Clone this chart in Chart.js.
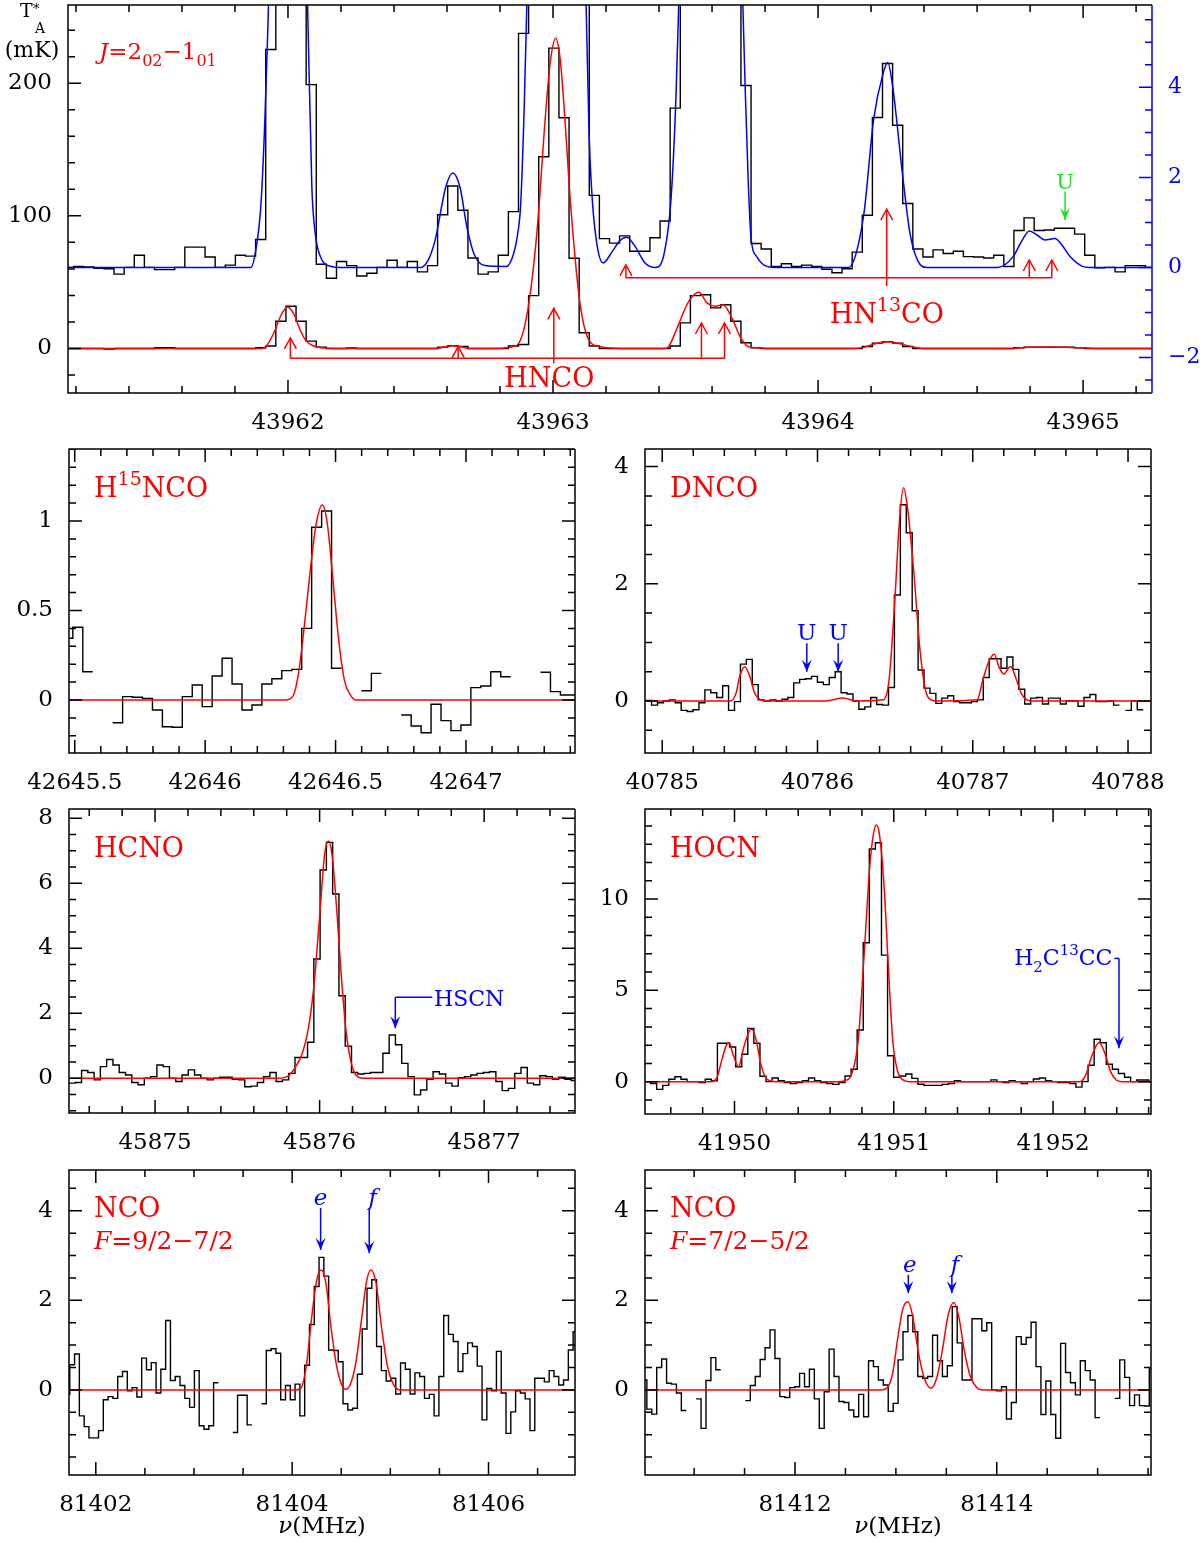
<!DOCTYPE html>
<html>
<head>
<meta charset="utf-8">
<title>HNCO isomers</title>
<script src="https://cdn.jsdelivr.net/npm/chart.js@4.4.1/dist/chart.umd.min.js"></script>
<style>
  html, body { margin: 0; padding: 0; background: #fff; }
  body { position: relative; width: 1200px; height: 1543px; overflow: hidden; }
  canvas { position: absolute; }
</style>
</head>
<body>
<script>
// channel widths (MHz)
const CH_Q = 0.03815;
const CH_3MM = 0.04883;

/* ---- top panel: HNCO J=2(02)-1(01), lower trace in mK, upper trace on the blue axis ---- */
const topStart = 43961.153;
const topSpec = [
  0, 0, 0, 0, -0.5, 0, 0, 0, 0, 0.5, 0.5, 0, 0, 0, 0, 0, 0, 0, 0, 0.5,
  1.8, 20.5, 31.8, 20.5, 5.5, 1,
  0, 0, 0.3, 0, 0, 0, 0, 0, 0, 0, 0,
  1, 2, 1.5,
  0, 0, 0, 0,
  1.8, 3, 39.8, 144.6, 226.5, 174, 68, 11.8, 1.8,
  0, 0, 0, 0, 0, 0, 0,
  1.8, 19.3, 39.8, 40.5, 30.6, 33, 20.5, 4.3, 0.5,
  0, 0, 0, 0, 0, 0, 0, 0, 0, 0,
  1.5, 4, 5, 4, 1.5,
  0, 0, 0, 0, 0, 0, 0, 0, 0, 0,
  0.5, 1, 1, 1, 1, 1, 0.5,
  0, 0, 0, 0, 0, 0, 0
];
const topSpecZoom = [
  0, 0.02, 0.01, -0.02, -0.03, -0.15, 0, 0.27, 0, -0.05, -0.05, 0, 0.45, 0.45, 0.23, 0, 0.05, 0.27, 0.25, 0.62,
  4.84, 8, 10, 8, 4.06,
  0.07, -0.24, 0.13, 0.04, -0.19, -0.13, 0, 0.16, 0, 0.13, -0.1, 0.04, 1.17, 1.81, 1.27, 0.21, -0.15, -0.1, 0.27, 1.24,
  5.2, 9, 14, 16, 14, 10, 7, 1.6,
  0.64, 0.54, 0.70, 0.36, 0.36, 0.66, 1.03, 3.54,
  7, 10, 12, 12, 10, 7,
  4.04, 0.53, 0.41, 0.02, 0.08, 0.02, 0.05, 0.02, -0.04, -0.12, -0.03, 0.34, 1.16, 3.33, 4.53, 3.16, 1.42,
  0.41, 0.23, 0.39, 0.31, 0.36, 0.24, 0.23, 0.21, 0.27, 0.02, 0.82, 1.10, 0.82, 0.83, 0.87, 0.87, 0.74,
  0.27, -0.01, 0, -0.1, 0.04, 0.04, 0
];
const topFit = [
  [43961.17, 0], [43961.902, 0], [43961.917, 1.5], [43961.947, 11.8], [43961.975, 25.6], [43961.998, 31.3],
  [43962.023, 25.6], [43962.045, 14.3], [43962.069, 5.5], [43962.097, 1.8], [43962.136, 0.3], [43962.177, 0],
  [43962.562, 0], [43962.592, 1.2], [43962.622, 2], [43962.653, 1.2], [43962.683, 0],
  [43962.800, 0], [43962.824, 0.5], [43962.849, 1.5], [43962.872, 4.3], [43962.905, 29.3], [43962.939, 87],
  [43962.972, 177], [43962.989, 215], [43963.010, 234], [43963.026, 220], [43963.040, 187], [43963.067, 107],
  [43963.100, 36.8], [43963.134, 6.8], [43963.175, 1.5], [43963.215, 0.3], [43963.253, 0],
  [43963.423, 0], [43963.437, 1.5], [43963.466, 14.3], [43963.509, 34.4], [43963.550, 42.3], [43963.581, 34.4],
  [43963.611, 31.8], [43963.642, 33], [43963.675, 23], [43963.705, 9.3], [43963.733, 1.8], [43963.770, 0.5], [43963.808, 0],
  [43964.140, 0], [43964.174, 1], [43964.215, 3.5], [43964.263, 5], [43964.309, 3.5], [43964.362, 1], [43964.404, 0],
  [43964.725, 0], [43964.781, 0.8], [43964.894, 1], [43964.989, 0.5], [43965.045, 0], [43965.26, 0]
];
const topFitZoom = [
  [43961.17, 0], [43961.860, 0], [43961.879, 0.4], [43961.898, 1.4], [43961.913, 3.3], [43961.925, 5.5],
  [43961.940, 9], [43962.000, 18], [43962.057, 9], [43962.074, 5.8], [43962.090, 1.8], [43962.103, 0.75],
  [43962.123, 0.23], [43962.164, 0.02], [43962.196, 0],
  [43962.501, 0], [43962.528, 0.15], [43962.555, 0.6], [43962.595, 1.78], [43962.622, 2.1], [43962.649, 1.78],
  [43962.675, 0.9], [43962.702, 0.3], [43962.743, 0.04], [43962.823, 0.02],
  [43962.851, 0.3], [43962.868, 0.8], [43962.878, 1.4], [43962.891, 3.5], [43962.902, 6], [43962.951, 20],
  [43963.008, 28], [43963.064, 20], [43963.109, 9], [43963.125, 5.8], [43963.136, 3.0], [43963.147, 1.6],
  [43963.166, 0.5], [43963.189, 0.1], [43963.223, 0.35], [43963.253, 0.6], [43963.278, 0.67], [43963.306, 0.5],
  [43963.347, 0.1], [43963.387, 0], [43963.419, 0.3], [43963.445, 1.5], [43963.464, 3.8], [43963.475, 6],
  [43963.517, 15], [43963.596, 22], [43963.675, 15], [43963.713, 6.5], [43963.725, 4], [43963.736, 2],
  [43963.747, 0.67], [43963.770, 0.23], [43963.800, 0.04], [43963.838, 0],
  [43964.116, 0], [43964.143, 0.3], [43964.174, 1.24], [43964.210, 3.3], [43964.245, 4.3], [43964.263, 4.55],
  [43964.282, 4.0], [43964.318, 2.1], [43964.347, 0.75], [43964.376, 0.15], [43964.411, 0],
  [43964.679, 0], [43964.736, 0.24], [43964.770, 0.6], [43964.797, 0.81], [43964.826, 0.72], [43964.856, 0.61],
  [43964.894, 0.64], [43964.920, 0.5], [43964.951, 0.24], [43964.995, 0.03], [43965.026, 0], [43965.26, 0]
];
const topTicksX = [43962, 43963, 43964, 43965];
const topTicksY = [0, 100, 200];
const topTicksY2 = [-2, 0, 2, 4];

/* ---- H15NCO ---- */
const h15Start = 42645.4546;
const h15Spec = [
  0.345, 0.406, 0.158, null, null,
  -0.127, 0.019, 0.015, 0.009, -0.056, -0.149, -0.152, 0.019, 0.084, -0.037, 0.134, 0.233, 0.089, -0.056,
  -0.028, 0.089, 0.119, 0.164, 0.171, 0.4, 0.965, 1.056, 0.177,
  null, null, 0.052, 0.149, null, null,
  -0.084, -0.145, -0.183, -0.024, -0.115, -0.171, -0.14, 0.069, 0.078, 0.158, 0.13,
  null, null, null, 0.155, 0.047, 0.028, 0.028
];
const h15Fit = [
  [42645.478, 0], [42646.306, 0], [42646.336, 0.02], [42646.358, 0.15], [42646.380, 0.41], [42646.402, 0.71],
  [42646.424, 0.97], [42646.449, 1.089], [42646.468, 0.99], [42646.490, 0.67], [42646.512, 0.335],
  [42646.534, 0.11], [42646.556, 0.03], [42646.578, 0], [42647.418, 0]
];
const h15TicksX = [42645.5, 42646, 42646.5, 42647];
const h15TicksY = [0, 0.5, 1];

/* ---- DNCO ---- */
const dncoStart = 40784.855;
const dncoSpec = [
  0.01,
  0.01, -0.07, -0.03, 0, 0.02, -0.03, -0.16, -0.18, -0.15, -0.03, 0.19, 0.14, 0.06, 0.26, -0.16, -0.01,
  0.63, 0.71, 0.28, 0.02, 0, 0.02, 0, 0.03, 0.06, 0.31, 0.37, 0.38, 0.42, 0.32, 0.28, 0.4, 0.5, 0.14,
  0.12, 0, -0.14, -0.1, 0.06, -0.06, -0.07, 0.23,
  1.81, 3.35, 2.87, 1.54, 0.53, 0.22, 0.13, -0.04, 0.05, 0.09, -0.01, -0.03, -0.03, -0.01, 0.02,
  0.4, 0.72, 0.72, 0.56, 0.75, 0.54, 0.2, -0.05, 0.05, 0.06, -0.05, 0.05, 0.05, -0.05, 0, 0, -0.09,
  0.06, 0.11, -0.01, -0.01, 0, -0.07, null, -0.16, 0, -0.15, null, null
];
const dncoFit = [
  [40784.889, 0], [40785.437, 0], [40785.475, 0.13], [40785.499, 0.42], [40785.532, 0.585], [40785.566, 0.40],
  [40785.598, 0.12], [40785.635, 0.02], [40785.68, 0], [40786.054, 0], [40786.165, 0.05], [40786.251, 0],
  [40786.424, 0.02], [40786.461, 0.36], [40786.498, 1.72], [40786.530, 3.15], [40786.555, 3.64], [40786.584, 3.2],
  [40786.621, 2.18], [40786.658, 0.93], [40786.695, 0.19], [40786.732, 0.02], [40786.77, 0],
  [40787.028, 0.02], [40787.065, 0.36], [40787.102, 0.67], [40787.139, 0.8], [40787.169, 0.58], [40787.200, 0.46],
  [40787.243, 0.59], [40787.282, 0.36], [40787.312, 0.13], [40787.349, 0.02], [40787.39, 0], [40788.148, 0]
];
const dncoTicksX = [40785, 40786, 40787, 40788];
const dncoTicksY = [0, 2, 4];

/* ---- HCNO ---- */
const hcnoStart = 45874.477;
const hcnoSpec = [
  -0.15, -0.13, 0.24, 0.18, -0.05, 0.36, 0.58, 0.41, 0.18, 0.1, -0.13, -0.2, 0, 0.05, 0.41, 0.36, 0, -0.1,
  0.1, 0.26, 0.1, 0, -0.05, 0, 0.03, 0.03, -0.03, -0.05, -0.26, -0.24, -0.13, 0.05, 0.18, -0.1, -0.05, 0.15,
  0.64, 0.64, 1.11, 3.67, 6.41,
  7.26, 5.67, 2.54, 0.99, 0.18, 0.13, 0.15, 0.18, 0.18, 0.77, 1.33, 1.03, 0.46, 0.05, -0.51, -0.36, -0.03,
  0.2, 0.13, -0.15, -0.24, 0.02, 0.05, 0.1, 0.15, 0.18, 0.2, -0.1, -0.38, -0.31, 0.15, 0.33, -0.15, -0.2,
  0.08, 0.05, -0.03, 0.03, -0.03, -0.07
];
const hcnoFit = [
  [45874.477, 0], [45875.75, 0], [45875.802, 0.05], [45875.849, 0.31], [45875.895, 0.77], [45875.930, 1.49],
  [45875.965, 2.82], [45876.000, 4.97], [45876.030, 6.87], [45876.053, 7.3], [45876.077, 6.82], [45876.104, 5.18],
  [45876.132, 3.13], [45876.162, 1.39], [45876.193, 0.46], [45876.221, 0.1], [45876.267, 0], [45877.552, 0]
];
const hcnoTicksX = [45875, 45876, 45877];
const hcnoTicksY = [0, 2, 4, 6, 8];

/* ---- HOCN ---- */
const hocnStart = 41949.4349;
const hocnSpec = [
  0, -0.1, -0.42, -0.2, 0.13, 0.27, 0.13, 0, 0, -0.05, 0.13, 0.05, 2.1, 2.1, 1.9, 0.82, 1.5, 2.92, 2.1, 0.3,
  0, 0.2, 0.05, -0.05, -0.1, -0.05, 0.05, 0.2, 0.05, -0.05, -0.1, -0.15, -0.05, 0.31, 0.68, 2.83, 7.61, 12.74,
  13.08, 6.93, 1.42, 0.24, 0.31, 0.42, 0.18, -0.14, -0.2, -0.2, -0.2, -0.15, -0.1, 0.05, 0, 0, 0, 0, 0, 0.1,
  0, -0.05, 0.05, 0, -0.1, 0, 0.15, 0.2, 0.05, 0, -0.05, -0.05, -0.1, -0.3, 0, 0.9, 2.32, 2.13, 0.95, 0.68,
  0.45, 0.24, 0, 0.09, 0.09, 0
];
const hocnFit = [
  [41949.438, 0], [41949.853, 0], [41949.888, 0.18], [41949.920, 1.18], [41949.949, 2.0], [41949.966, 2.13],
  [41949.989, 1.55], [41950.025, 0.82], [41950.056, 1.82], [41950.093, 2.78], [41950.109, 2.87], [41950.136, 2.29],
  [41950.164, 1.0], [41950.193, 0.27], [41950.225, 0.04], [41950.260, 0],
  [41950.66, 0], [41950.693, 0.05], [41950.741, 0.55], [41950.777, 2.29], [41950.813, 6.84], [41950.849, 11.77],
  [41950.873, 13.6], [41950.890, 14.05], [41950.909, 13.6], [41950.938, 10.86], [41950.969, 5.75], [41950.993, 2.29],
  [41951.022, 0.64], [41951.053, 0.13], [41951.101, 0],
  [41952.169, 0], [41952.205, 0.36], [41952.242, 1.37], [41952.289, 2.15], [41952.326, 1.55], [41952.361, 0.55],
  [41952.397, 0.09], [41952.433, 0], [41952.615, 0]
];
const hocnTicksX = [41950, 41951, 41952];
const hocnTicksY = [0, 5, 10];

/* ---- NCO F=9/2-7/2 ---- */
const nco1Start = 81401.686;
const nco1Spec = [
  -0.1, 0.56, 0.8, -0.58, -0.82, -1.07, -1.07, -0.91, -0.22, -0.15, -0.19, 0.3, 0.41, -0.02, 0.05, -0.16,
  0.71, 0.45, 0.61, -0.07, 0.46, 1.55, 0.21, 0.3, 0.1, -0.19, -0.39, 0.43, -0.8, -0.88, -0.8, 0.16,
  null, null, null, -0.95, -0.12, -0.12, -0.78, null, null,
  -0.31, 0.88, 0.92, 0.82, -0.22, 0.1, -0.22, 0.13, -0.58, 0.55, 1.46, 2.31, 2.96, 2.54, 0.89, 0.88, 0.63,
  -0.31, -0.45, -0.41, 0.35, 1.36, 2.27, 2.46, 0.97, 0.43, 0.2, 0.26, -0.09, 0.6, 0.46, -0.09, 0.38, 0.3,
  -0.19, -0.1, -0.58, 0.3, 1.66, 1.24, 1.08, 0.41, 0.81, 1.05, 0.97, 0.53, -0.67, 0.03, -0.02, 0.86, -0.07,
  -0.97, -0.49, -0.02, -0.07, -0.2, -0.91, 0.26, 0.26, 0.18, 0.43, 0.3, 0.11, 0.22, 0.89, 1.3
];
const nco1Fit = [
  [81401.727, 0], [81404.02, 0], [81404.083, 0.02], [81404.143, 0.52], [81404.200, 1.64], [81404.251, 2.46],
  [81404.298, 2.68], [81404.344, 2.38], [81404.395, 1.41], [81404.454, 0.52], [81404.505, 0.11], [81404.543, 0.015],
  [81404.590, 0.11], [81404.648, 0.6], [81404.706, 1.56], [81404.757, 2.42], [81404.804, 2.68], [81404.855, 2.38],
  [81404.910, 1.41], [81404.968, 0.56], [81405.030, 0.13], [81405.097, 0], [81406.881, 0]
];
const nco1TicksX = [81402, 81404, 81406];

/* ---- NCO F=7/2-5/2 ---- */
const nco2Start = 81410.4827;
const nco2Spec = [
  0.22,
  -0.43, -0.54, 0.5, 0.69, 0.15, 0.13, -0.07, -0.46,
  null, null,
  -0.2, -0.86, 0.21, 0.72, 0.45,
  null, null, null, null, null,
  -0.24, 0.1, 0.3, 0.68, 0.94, 1.34, 0.7, -0.15, -0.17, 0.05, 0.07, 0.37, 0.07, 0.46, -0.2, -0.86,
  -0.04, 0.91, 0.3, -0.26, -0.28, -0.45, -0.6, -0.1, -0.6, 0.65, 0.52, 0.22, 0.11, -0.48, -0.3, 0.67,
  1.3, 1.66, 1.3, 0.3, 0.26, 0.3, 1.22, 0.65, 0.3, 0.54, 1.86, 1.05, 0.22, 0.22, 1.59, 1.59, 1.32, 1.5,
  0, -0.02, 0.07, -0.65, -0.28, 1.19, 1.02, 1.17, 1.51, 0.52, -0.55, 0.2, -0.55, -1.08, 1.04, 0.39, 0.16,
  -0.11, 0.65, 0.43, 0.22, -0.62,
  null, null, null,
  -0.19, 0.67, 0.28, -0.35, -0.11, -0.35, -0.36, 0.47
];
const nco2Fit = [
  [81410.513, 0], [81412.85, 0], [81412.910, 0.04], [81412.968, 0.37], [81413.016, 1.12], [81413.070, 1.82],
  [81413.120, 1.97], [81413.168, 1.63], [81413.222, 0.85], [81413.282, 0.26], [81413.347, 0.04], [81413.404, 0.26],
  [81413.461, 0.89], [81413.518, 1.67], [81413.575, 1.95], [81413.624, 1.63], [81413.677, 0.89], [81413.738, 0.3],
  [81413.803, 0.05], [81413.859, 0], [81415.529, 0]
];
const nco2TicksX = [81412, 81414];
const ncoTicksY = [0, 2, 4];

/* ---------------- helpers ---------------- */
const RED = '#ff0000', BLUE = '#0000ff', GREEN = '#22dd22';
const SERIF = '"DejaVu Serif", "Liberation Serif", serif';
Chart.defaults.font.family = SERIF;
Chart.defaults.color = '#000';

const fmt = v => String(Math.round(v * 1e4) / 1e4).replace('-', '\u2212');

// channel values -> step outline (left edge, right edge of every channel)
function hist(start, dv, vals, axis) {
  const pts = [];
  vals.forEach((v, i) => {
    const a = start + i * dv;
    if (v === null) { pts.push({x: a, y: null}); return; }
    pts.push({x: a, y: v}, {x: a + dv, y: v});
  });
  return {data: pts, yAxisID: axis || 'y', borderColor: '#000', borderWidth: 1.4,
          pointRadius: 0, tension: 0, spanGaps: false, order: 2};
}

function fit(pairs, color, axis) {
  return {data: pairs.map(([x, y]) => ({x, y})), yAxisID: axis || 'y', borderColor: color,
          borderWidth: 1.5, pointRadius: 0, cubicInterpolationMode: 'monotone', order: 1};
}

function drawRich(ctx, parts, x, y, size, align) {
  const segs = parts.map(p => {
    const [t, k] = typeof p === 'string' ? [p, ''] : p;
    const small = k === 'sup' || k === 'sub';
    const fs = small ? Math.round(size * 0.7) : size;
    const font = (k === 'it' ? 'italic ' : '') + fs + 'px ' + SERIF;
    ctx.font = font;
    return {t, font, w: ctx.measureText(t).width,
            dy: k === 'sup' ? -size * 0.45 : k === 'sub' ? size * 0.3 : 0};
  });
  const total = segs.reduce((s, g) => s + g.w, 0);
  let cx = align === 'center' ? x - total / 2 : align === 'right' ? x - total : x;
  ctx.textAlign = 'left';
  ctx.textBaseline = 'alphabetic';
  segs.forEach(g => { ctx.font = g.font; ctx.fillText(g.t, cx, y + g.dy); cx += g.w; });
}

function head(ctx, x, tip, dir, style) {
  // dir = +1 arrow points down, -1 points up
  const L = style === 'open' ? 11 : 12, w = style === 'open' ? 6 : 5;
  ctx.beginPath();
  if (style === 'open') {
    ctx.moveTo(x - w, tip - dir * L); ctx.lineTo(x, tip); ctx.lineTo(x + w, tip - dir * L);
    ctx.stroke();
  } else {
    ctx.moveTo(x, tip); ctx.lineTo(x - w, tip - dir * L); ctx.lineTo(x, tip - dir * L * 0.6);
    ctx.lineTo(x + w, tip - dir * L); ctx.closePath(); ctx.fill();
  }
}

// frame with inward ticks on all four sides
function framePlugin(marks) {
  return {
    id: 'frame',
    afterDatasetsDraw(chart) {
      const {ctx, chartArea: a, scales} = chart;
      const each = (sc, [minor, major], fn) => {
        const n0 = Math.ceil(sc.min / minor - 1e-6), n1 = Math.floor(sc.max / minor + 1e-6);
        for (let n = n0; n <= n1; n++) {
          const v = n * minor, r = v / major;
          fn(sc.getPixelForValue(v), Math.abs(r - Math.round(r)) < 1e-6 ? 13 : 7);
        }
      };
      ctx.save();
      ctx.lineWidth = 1.5;
      ctx.strokeStyle = '#000';
      ctx.beginPath();
      each(scales.x, marks.x, (p, L) => {
        ctx.moveTo(p, a.bottom); ctx.lineTo(p, a.bottom - L);
        ctx.moveTo(p, a.top); ctx.lineTo(p, a.top + L);
      });
      each(scales.y, marks.y, (p, L) => {
        ctx.moveTo(a.left, p); ctx.lineTo(a.left + L, p);
        if (!scales.y2) { ctx.moveTo(a.right, p); ctx.lineTo(a.right - L, p); }
      });
      ctx.moveTo(a.right, a.top); ctx.lineTo(a.left, a.top); ctx.lineTo(a.left, a.bottom); ctx.lineTo(a.right, a.bottom);
      if (!scales.y2) ctx.lineTo(a.right, a.top);
      ctx.stroke();
      if (scales.y2) {
        ctx.strokeStyle = BLUE;
        ctx.beginPath();
        each(scales.y2, marks.y2, (p, L) => { ctx.moveTo(a.right, p); ctx.lineTo(a.right - L, p); });
        ctx.moveTo(a.right, a.top); ctx.lineTo(a.right, a.bottom);
        ctx.stroke();
      }
      ctx.restore();
    }
  };
}

// labels, arrows and brackets placed in data units (or px offsets from the frame corner)
function notesPlugin(items) {
  return {
    id: 'notes',
    afterDraw(chart) {
      const {ctx, chartArea: a, scales} = chart;
      const X = v => scales.x.getPixelForValue(v), Y = v => scales.y.getPixelForValue(v);
      items.forEach(n => {
        ctx.save();
        ctx.strokeStyle = ctx.fillStyle = n.color || '#000';
        ctx.lineWidth = 1.5;
        if (n.path) {
          ctx.beginPath();
          n.path.forEach(([u, v], i) => i ? ctx.lineTo(X(u), Y(v)) : ctx.moveTo(X(u), Y(v)));
          ctx.stroke();
        }
        if (n.arrow) {
          const [u, v0, v1] = n.arrow, px = X(u), p0 = Y(v0), p1 = Y(v1);
          ctx.beginPath(); ctx.moveTo(px, p0); ctx.lineTo(px, p1); ctx.stroke();
          head(ctx, px, p1, p1 > p0 ? 1 : -1, n.head || 'barb');
        }
        if (n.text) {
          const px = n.px ? a.left + n.px[0] : X(n.at[0]);
          const py = n.px ? a.top + n.px[1] : Y(n.at[1]);
          drawRich(ctx, n.text, px, py, n.size || 27, n.align || 'left');
        }
        ctx.restore();
      });
    }
  };
}

function makePanel(p) {
  const [bx, by, bw, bh] = p.box;
  const [fl, ft, fr, fb] = p.frame;
  const padL = fl - bx, padT = ft - by, padR = bx + bw - fr, padB = by + bh - fb;
  const cv = document.createElement('canvas');
  cv.width = bw; cv.height = bh;
  cv.style.left = bx + 'px'; cv.style.top = by + 'px';
  document.body.appendChild(cv);

  const tickFont = {size: 23, family: SERIF};
  const scales = {
    x: {
      type: 'linear', min: p.x[0], max: p.x[1], bounds: 'data',
      grid: {display: false}, border: {display: false},
      ticks: {font: tickFont, padding: 8, autoSkip: false, maxRotation: 0, callback: fmt},
      afterBuildTicks: s => { s.ticks = p.xt.map(value => ({value})); },
      afterFit: s => { s.height = padB; s.paddingLeft = 0; s.paddingRight = 0; }
    },
    y: {
      type: 'linear', position: 'left', min: p.y[0], max: p.y[1], bounds: 'data',
      grid: {display: false}, border: {display: false},
      ticks: {font: tickFont, padding: 8, callback: fmt},
      afterBuildTicks: s => { s.ticks = p.yt.map(value => ({value})); },
      afterFit: s => { s.width = padL; s.paddingTop = 0; s.paddingBottom = 0; }
    }
  };
  if (p.y2) {
    scales.y2 = {
      type: 'linear', position: 'right', min: p.y2[0], max: p.y2[1], bounds: 'data',
      grid: {display: false}, border: {display: false},
      ticks: {font: {size: 22, family: SERIF}, padding: 8, color: BLUE, callback: fmt},
      afterBuildTicks: s => { s.ticks = p.y2t.map(value => ({value})); },
      afterFit: s => { s.width = padR; s.paddingTop = 0; s.paddingBottom = 0; }
    };
  }
  return new Chart(cv, {
    type: 'line',
    data: {datasets: p.data},
    options: {
      responsive: false, animation: false, events: [],
      layout: {autoPadding: false, padding: {left: 0, top: padT, right: p.y2 ? 0 : padR, bottom: 0}},
      scales,
      plugins: {legend: {display: false}, tooltip: {enabled: false}}
    },
    plugins: [framePlugin(p.marks), notesPlugin(p.notes || [])]
  });
}

const nuLabel = [['\u03bd', 'it'], '(MHz)'];

/* ---------------- panels ---------------- */
makePanel({
  box: [0, 0, 1200, 445], frame: [68, 5, 1152, 393],
  x: [43961.170, 43965.260], y: [-33.6, 259.0], y2: [-2.79, 5.83],
  xt: topTicksX, yt: topTicksY, y2t: topTicksY2,
  marks: {x: [0.2, 1], y: [20, 100], y2: [0.5, 2]},
  data: [
    hist(topStart, CH_Q, topSpec, 'y'),
    hist(topStart, CH_Q, topSpecZoom, 'y2'),
    fit(topFit, RED, 'y'),
    fit(topFitZoom, BLUE, 'y2')
  ],
  notes: [
    {text: ['T'], px: [-48, 12], size: 19},
    {text: ['*'], px: [-35, 8], size: 13},
    {text: ['A'], px: [-33, 28], size: 14},
    {text: ['(mK)'], px: [-36, 52], size: 22, align: 'center'},
    {text: [['J', 'it'], '=2', ['02', 'sub'], '\u22121', ['01', 'sub']], px: [31, 54], size: 23, color: RED},
    {color: RED, path: [[43962.009, -7.4], [43963.647, -7.4]]},
    {color: RED, arrow: [43962.009, -7.4, 7.9], head: 'open'},
    {color: RED, arrow: [43962.642, -7.4, 1.4], head: 'open'},
    {color: RED, arrow: [43963.003, -11.2, 30.3], head: 'open'},
    {color: RED, arrow: [43963.560, -7.4, 19.2], head: 'open'},
    {color: RED, arrow: [43963.647, -7.4, 19.2], head: 'open'},
    {color: RED, text: ['HNCO'], at: [43962.986, -28.8], align: 'center'},
    {color: RED, path: [[43963.275, 53.4], [43964.882, 53.4]]},
    {color: RED, arrow: [43963.275, 53.4, 63], head: 'open'},
    {color: RED, arrow: [43964.797, 53.4, 66.7], head: 'open'},
    {color: RED, arrow: [43964.882, 53.4, 66.7], head: 'open'},
    {color: RED, arrow: [43964.259, 47.1, 105.0], head: 'open'},
    {color: RED, text: ['HN', ['13', 'sup'], 'CO'], at: [43964.259, 19.2], align: 'center'},
    {color: GREEN, text: ['U'], at: [43964.932, 120.3], size: 21, align: 'center'},
    {color: GREEN, arrow: [43964.932, 118.3, 96.9]}
  ]
});

makePanel({
  box: [0, 440, 605, 363], frame: [69, 449, 575, 753],
  x: [42645.478, 42647.418], y: [-0.296, 1.402],
  xt: h15TicksX, yt: h15TicksY, marks: {x: [0.1, 0.5], y: [0.1, 0.5]},
  data: [hist(h15Start, CH_Q, h15Spec), fit(h15Fit, RED)],
  notes: [{color: RED, text: ['H', ['15', 'sup'], 'NCO'], px: [25, 48]}]
});

makePanel({
  box: [580, 440, 620, 363], frame: [645, 449, 1151, 753],
  x: [40784.889, 40788.148], y: [-0.887, 4.30],
  xt: dncoTicksX, yt: dncoTicksY, marks: {x: [0.2, 1], y: [0.5, 2]},
  data: [hist(dncoStart, CH_Q, dncoSpec), fit(dncoFit, RED)],
  notes: [
    {color: RED, text: ['DNCO'], px: [25, 48]},
    {color: BLUE, text: ['U'], at: [40785.931, 1.04], size: 23, align: 'center'},
    {color: BLUE, arrow: [40785.931, 0.985, 0.5]},
    {color: BLUE, text: ['U'], at: [40786.133, 1.04], size: 23, align: 'center'},
    {color: BLUE, arrow: [40786.133, 0.985, 0.5]}
  ]
});

makePanel({
  box: [0, 800, 605, 363], frame: [69, 809, 575, 1113],
  x: [45874.477, 45877.552], y: [-1.068, 8.286],
  xt: hcnoTicksX, yt: hcnoTicksY, marks: {x: [0.2, 1], y: [0.5, 2]},
  data: [hist(hcnoStart, CH_Q, hcnoSpec), fit(hcnoFit, RED)],
  notes: [
    {color: RED, text: ['HCNO'], px: [25, 48]},
    {color: BLUE, path: [[45876.685, 2.49], [45876.460, 2.49]]},
    {color: BLUE, arrow: [45876.460, 2.49, 1.54]},
    {color: BLUE, text: ['HSCN'], at: [45876.695, 2.22], size: 22}
  ]
});

makePanel({
  box: [580, 800, 620, 363], frame: [645, 809, 1151, 1114],
  x: [41949.438, 41952.615], y: [-1.77, 14.93],
  xt: hocnTicksX, yt: hocnTicksY, marks: {x: [0.2, 1], y: [1, 5]},
  data: [hist(hocnStart, CH_Q, hocnSpec), fit(hocnFit, RED)],
  notes: [
    {color: RED, text: ['HOCN'], px: [25, 48]},
    {color: BLUE, text: ['H', ['2', 'sub'], 'C', ['13', 'sup'], 'CC'], at: [41952.373, 6.39], size: 22, align: 'right'},
    {color: BLUE, path: [[41952.385, 6.75], [41952.414, 6.75]]},
    {color: BLUE, arrow: [41952.414, 6.75, 1.83]}
  ]
});

makePanel({
  box: [0, 1160, 605, 383], frame: [69, 1170, 575, 1475],
  x: [81401.727, 81406.881], y: [-1.90, 4.91],
  xt: nco1TicksX, yt: ncoTicksY, marks: {x: [0.5, 2], y: [0.5, 2]},
  data: [hist(nco1Start, CH_3MM, nco1Spec), fit(nco1Fit, RED)],
  notes: [
    {color: RED, text: ['NCO'], px: [25, 47]},
    {color: RED, text: [['F', 'it'], '=9/2\u22127/2'], px: [25, 79], size: 25},
    {color: BLUE, text: [['e', 'it']], at: [81404.290, 4.13], size: 23, align: 'center'},
    {color: BLUE, arrow: [81404.290, 4.06, 3.125]},
    {color: BLUE, text: [['f', 'it']], at: [81404.822, 4.13], size: 23, align: 'center'},
    {color: BLUE, arrow: [81404.785, 4.06, 3.05]},
    {text: nuLabel, px: [253, 363], size: 23, align: 'center'}
  ]
});

makePanel({
  box: [580, 1160, 620, 383], frame: [645, 1170, 1151, 1475],
  x: [81410.513, 81415.529], y: [-1.90, 4.91],
  xt: nco2TicksX, yt: ncoTicksY, marks: {x: [0.5, 2], y: [0.5, 2]},
  data: [hist(nco2Start, CH_3MM, nco2Spec), fit(nco2Fit, RED)],
  notes: [
    {color: RED, text: ['NCO'], px: [25, 47]},
    {color: RED, text: [['F', 'it'], '=7/2\u22125/2'], px: [25, 79], size: 25},
    {color: BLUE, text: [['e', 'it']], at: [81413.138, 2.64], size: 23, align: 'center'},
    {color: BLUE, arrow: [81413.123, 2.57, 2.16]},
    {color: BLUE, text: [['f', 'it']], at: [81413.585, 2.64], size: 23, align: 'center'},
    {color: BLUE, arrow: [81413.555, 2.57, 2.16]},
    {text: nuLabel, px: [253, 363], size: 23, align: 'center'}
  ]
});
</script>
</body>
</html>
